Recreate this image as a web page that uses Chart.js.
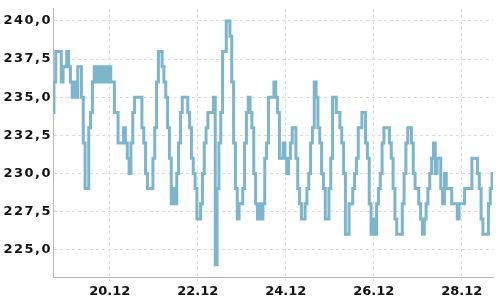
<!DOCTYPE html>
<html>
<head>
<meta charset="utf-8">
<script src="https://cdn.jsdelivr.net/npm/chart.js@4/dist/chart.umd.min.js"></script>
<style>
  html, body { margin: 0; padding: 0; background: #fff; }
  #wrap { width: 500px; height: 300px; }
</style>
</head>
<body>
<div id="wrap"><canvas id="canvas"></canvas></div>
<script>
// hourly voltage readings, December; first day starts at 17:00
const dec18 = [234, 236, 238, 238, 238, 236, 237];
const dec19 = [237, 238, 237, 236, 235, 236, 235, 237, 237, 235, 232, 229, 229, 233, 234, 236, 237, 236, 237, 236, 237, 236, 237, 236];
const dec20 = [237, 236, 236, 234, 234, 232, 232, 232, 233, 232, 231, 230, 232, 234, 235, 235, 235, 235, 233, 232, 230, 229, 229, 229];
const dec21 = [231, 233, 236, 238, 238, 237, 236, 235, 233, 231, 228, 229, 228, 230, 232, 234, 235, 235, 235, 234, 233, 231, 230, 229];
const dec22 = [227, 227, 228, 230, 232, 233, 234, 234, 234, 235, 224, 229, 232, 234, 238, 238, 240, 240, 239, 236, 232, 229, 227, 228];
const dec23 = [228, 229, 232, 234, 235, 234, 233, 230, 228, 227, 228, 227, 228, 231, 232, 235, 235, 235, 236, 235, 234, 231, 231, 232];
const dec24 = [231, 230, 231, 232, 233, 233, 231, 229, 228, 227, 227, 228, 229, 230, 232, 233, 236, 235, 233, 232, 230, 229, 227, 227];
const dec25 = [229, 231, 235, 235, 234, 234, 233, 232, 230, 226, 226, 228, 228, 229, 230, 231, 233, 233, 234, 234, 232, 231, 228, 226];
const dec26 = [227, 226, 228, 229, 230, 232, 233, 233, 233, 232, 231, 229, 227, 226, 226, 226, 228, 230, 232, 233, 233, 232, 230, 229];
const dec27 = [229, 228, 227, 226, 227, 228, 229, 230, 231, 232, 230, 231, 231, 229, 228, 230, 229, 229, 229, 228, 228, 228, 227, 228];
const dec28 = [228, 228, 229, 229, 229, 229, 231, 231, 231, 230, 229, 227, 226, 226, 226, 228, 229, 230];

const days = [
  [18, 17, dec18], [19, 0, dec19], [20, 0, dec20], [21, 0, dec21], [22, 0, dec22],
  [23, 0, dec23], [24, 0, dec24], [25, 0, dec25], [26, 0, dec26], [27, 0, dec27], [28, 0, dec28],
];

const yTicks = [225, 227.5, 230, 232.5, 235, 237.5, 240];
const xTicks = [20, 22, 24, 26, 28];

const points = [];
days.forEach(([day, startHour, values]) => {
  values.forEach((v, i) => points.push({ x: day + (startHour + i) / 24, y: v }));
});

// widen the y labels a bit, like the original
const spaceLabels = (s, px) => {
  if (s._spaced) return;
  s._spaced = true;
  const orig = s.drawLabels.bind(s);
  s.drawLabels = area => {
    const c = s.ctx;
    const prev = c.letterSpacing;
    c.letterSpacing = px;
    orig(area);
    c.letterSpacing = prev;
  };
};

new Chart(document.getElementById("canvas").getContext("2d"), {
  type: "line",
  data: {
    datasets: [{
      data: points,
      borderColor: "rgb(124, 181, 204)",
      borderWidth: 3,
      pointRadius: 0,
      stepped: "middle",
      fill: false,
    }],
  },
  options: {
    responsive: true,
    maintainAspectRatio: false,
    animation: false,
    layout: { padding: { top: 5, right: 7, left: 0, bottom: 0 } },
    plugins: { legend: { display: false }, tooltip: { enabled: false } },
    scales: {
      x: {
        type: "linear",
        min: points[0].x,
        max: points[points.length - 1].x,
        afterFit: s => { s.height = 23; },
        afterBuildTicks: s => { s.ticks = xTicks.map(v => ({ value: v })); },
        ticks: {
          maxRotation: 0,
          autoSkip: false,
          padding: 3,
          color: "#111",
          font: { family: "DejaVu Sans", size: 13, weight: "bold" },
          callback: v => v + ".12",
        },
        grid: { color: "#dcdcdc", tickLength: 4 },
        border: { color: "#b8b8b8", width: 1, dash: [3, 3] },
      },
      y: {
        type: "linear",
        min: 223.2,
        max: 240.8,
        afterFit: s => { s.width = 53; spaceLabels(s, "1.5px"); },
        afterBuildTicks: s => { s.ticks = yTicks.map(v => ({ value: v })); },
        ticks: {
          padding: 1,
          color: "#111",
          font: { family: "DejaVu Sans", size: 13, weight: "bold" },
          callback: v => v.toFixed(1).replace(".", ","),
        },
        grid: { color: "#dcdcdc", drawTicks: false },
        border: { color: "#b8b8b8", width: 1, dash: [3, 3] },
      },
    },
  },
});
</script>
</body>
</html>
